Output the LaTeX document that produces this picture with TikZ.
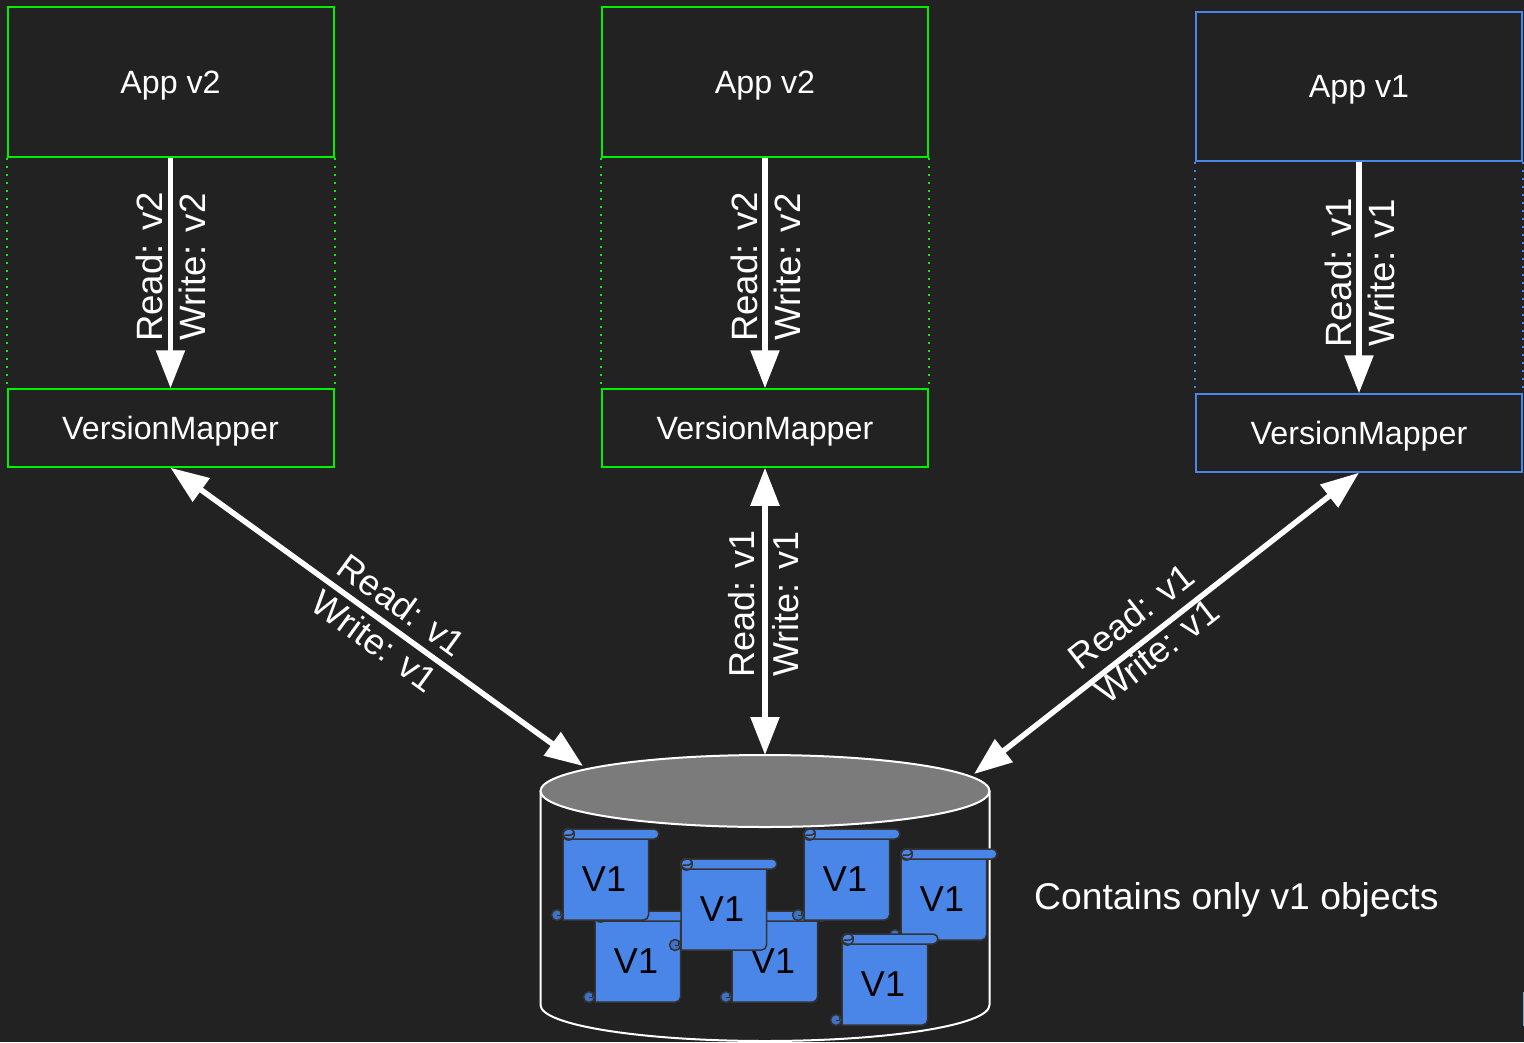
\documentclass[tikz,border=0pt]{standalone}
\usepackage{fontspec}
\setmainfont{Liberation Sans}
\usetikzlibrary{arrows.meta}
\definecolor{bg}{HTML}{222222}
\definecolor{gbox}{HTML}{00F000}
\definecolor{bbox}{HTML}{4A86E8}
\definecolor{scol}{HTML}{4A86E8}
\definecolor{scurl}{HTML}{3E72C7}
\definecolor{sline}{HTML}{333333}
\definecolor{dbtop}{HTML}{7B7B7B}
\definecolor{sliver}{HTML}{6FA8C8}
\tikzset{
  x=1pt,y=-1pt,
  appbox/.style={draw=#1,line width=2pt,minimum width=326pt,minimum height=149.5pt,inner sep=0pt,text=white,text depth=0pt,font=\fontsize{32.2}{32.2}\selectfont},
  mapbox/.style={draw=#1,line width=2pt,minimum width=326pt,minimum height=77.5pt,inner sep=0pt,text=white,text depth=0pt,font=\fontsize{32.2}{32.2}\selectfont},
  sidedots/.style={draw=#1,line width=2pt,dash pattern=on 2pt off 6pt,dash phase=-8pt},
  flow/.style={draw=white,line width=5.5pt,-{Triangle[length=38pt,width=28pt]}},
  flowboth/.style={draw=white,line width=5.5pt,{Triangle[length=38pt,width=28pt]}-{Triangle[length=38pt,width=28pt]}},
  lab/.style={text=white,font=\fontsize{36.6}{36.6}\selectfont,inner sep=0pt},
  lablow/.style={text=white,font=\fontsize{36}{36}\selectfont,inner sep=0pt},
  note/.style={text=white,text depth=0pt,font=\fontsize{37.3}{37.3}\selectfont,inner sep=0pt},
  vlabel/.style={text=black,font=\fontsize{36}{36}\selectfont,inner sep=0pt},
  sc/.style={fill=scol,draw=sline,line width=1.5pt,line join=round},
  dbline/.style={draw=white,line width=2pt},
  pics/vscroll/.style={code={
    % lower curl
    \path[sc,fill=scurl] (-6,86) circle[radius=5.5];
    \draw[sline,line width=1pt] (-2.3,81) -- (-2.3,86.7) -- (-6.3,86.7);
    % body
    \path[sc] (0,8) -- (85.5,8) [rounded corners=5pt] -- (85.5,91) [sharp corners] -- (0,91) -- cycle;
    % top bar with curl
    \path[sc,rounded corners=5pt] (0,0) rectangle (96,10);
    \path[sc,fill=none] (5.5,5.3) circle[radius=5.8];
    \draw[sline,line width=1.5pt] (1.5,6) -- (7.5,6) .. controls (9.5,6) and (11,4.5) .. (11,2);
    \node[vlabel] (#1) at (41,50) {V1};
  }},
}
\begin{document}
\begin{tikzpicture}
\useasboundingbox[fill=bg] (0,0) rectangle (1524,1042);
\fill[sliver] (1523,992) rectangle (1524,1026);

% boxes
\node[appbox=gbox] (appa) at (170.5,82) {App v2};
\node[mapbox=gbox] (mapa) at (170.5,428) {VersionMapper};
\node[appbox=gbox] (appb) at (765,82) {App v2};
\node[mapbox=gbox] (mapb) at (765,428) {VersionMapper};
\node[appbox=bbox] (appc) at (1359,86.5) {App v1};
\node[mapbox=bbox] (mapc) at (1359,433) {VersionMapper};

\draw[sidedots=gbox] (appa.south west) -- (mapa.north west);
\draw[sidedots=gbox] (appa.south east) -- (mapa.north east);
\draw[sidedots=gbox] (appb.south west) -- (mapb.north west);
\draw[sidedots=gbox] (appb.south east) -- (mapb.north east);
\draw[sidedots=bbox] (appc.south west) -- (mapc.north west);
\draw[sidedots=bbox] (appc.south east) -- (mapc.north east);

% database
\coordinate (dbl) at (583,766);
\coordinate (dbm) at (765,755);
\coordinate (dbr) at (974,774);
\draw[dbline] (540.5,791) -- (540.5,1005) .. controls (540.5,1025) and (641,1041) .. (765,1041) .. controls (889,1041) and (989.5,1025) .. (989.5,1005) -- (989.5,791);
\draw[dbline,fill=dbtop] (765,791) ellipse[x radius=224.5,y radius=36];

% arrows
\draw[flow] (appa.south) -- (mapa.north);
\draw[flow] (appb.south) -- (mapb.north);
\draw[flow] (appc.south) -- (mapc.north);
\draw[flowboth] (mapa.south) -- (dbl);
\draw[flowboth] (mapb.south) -- (dbm);
\draw[flowboth] (mapc.south) -- (dbr);

% arrow labels
\node[lab,rotate=90] (ra1) at (149,267) {Read: v2};
\node[lab,rotate=90] (wa1) at (192,267) {Write: v2};
\node[lab,rotate=90] (rb1) at (744,267) {Read: v2};
\node[lab,rotate=90] (wb1) at (787,267) {Write: v2};
\node[lab,rotate=90] (rc1) at (1338,273) {Read: v1};
\node[lab,rotate=90] (wc1) at (1381,273) {Write: v1};
\node[lablow,rotate=-36] (ra2) at (402,605) {Read: v1};
\node[lablow,rotate=-36] (wa2) at (375,641) {Write: v1};
\node[lablow,rotate=90] (rb2) at (742,604) {Read: v1};
\node[lablow,rotate=90] (wb2) at (786,604) {Write: v1};
\node[lablow,rotate=38] (rc2) at (1131,616) {Read: v1};
\node[lablow,rotate=38] (wc2) at (1157,651) {Write: v1};

% scrolls
\pic at (595,911) {vscroll=sb};
\pic at (732,911) {vscroll=sd};
\pic at (563,829) {vscroll=sa};
\pic at (681,859) {vscroll=sc};
\pic at (804,829) {vscroll=se};
\pic at (901,849) {vscroll=sf};
\pic at (842,934) {vscroll=sg};

\node[note,anchor=west] (cap) at (1034,896) {Contains only v1 objects};
\end{tikzpicture}
\end{document}
